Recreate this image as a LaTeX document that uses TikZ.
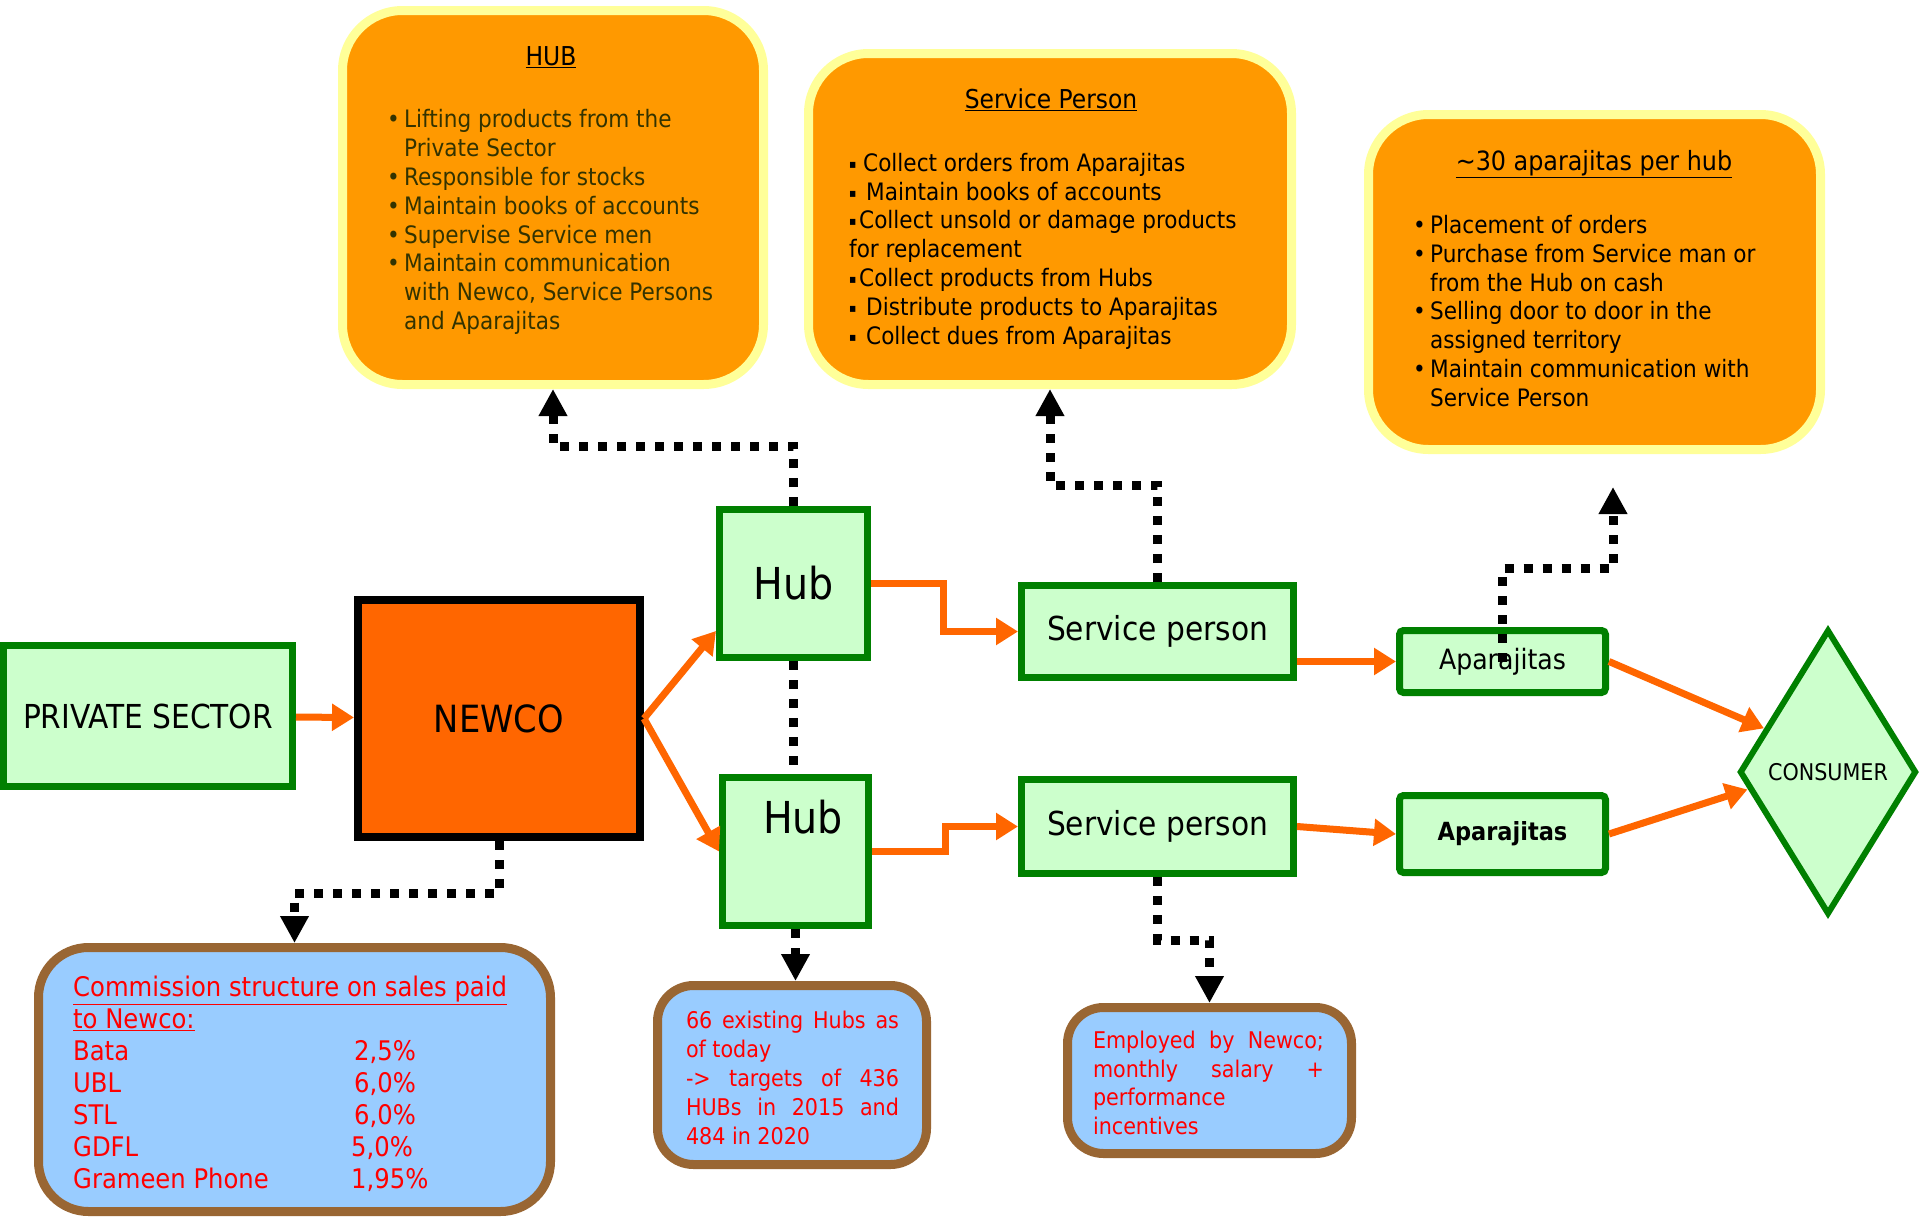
\documentclass[tikz,border=0pt]{standalone}
\usepackage{fontspec}
\setmainfont{DejaVu Sans Condensed}
\usetikzlibrary{arrows.meta,calc,positioning,shapes.geometric}

\definecolor{boxgreen}{HTML}{008000}
\definecolor{boxfill}{HTML}{CCFFCC}
\definecolor{newcoorange}{HTML}{FF6600}
\definecolor{calloutfill}{HTML}{FF9900}
\definecolor{calloutrim}{HTML}{FFFF99}
\definecolor{notefill}{HTML}{99CCFF}
\definecolor{noterim}{HTML}{996633}
\definecolor{olivetext}{HTML}{333300}

\newcommand{\blt}{\makebox[17pt][l]{\textbullet}}
\newcommand{\cont}{\hspace*{17pt}}
\newcommand{\sq}[1]{\makebox[6pt][l]{\raisebox{3pt}{\fontsize{12}{12}\selectfont ▪}}\hspace*{#1}}

\begin{document}
\begin{tikzpicture}[x=1pt,y=-1pt,
    unit/.style={draw=boxgreen,fill=boxfill,line width=7pt,inner sep=0pt},
    callout/.style={draw=calloutrim,fill=calloutfill,line width=9pt,rounded corners=60pt},
    note/.style={draw=noterim,fill=notefill,line width=9pt,rounded corners=36pt},
    flow/.style={draw=newcoorange,line width=7pt,-{Triangle[width=26pt,length=22pt]}},
    link/.style={draw=black,line width=9pt,dash pattern=on 9pt off 10pt,-{Triangle[width=27pt,length=27pt]}},
    txt/.style={inner sep=0pt,align=left,font=\fontsize{24}{28.8}\selectfont},
    redtxt/.style={inner sep=0pt,text=red,font=\fontsize{23}{28.8}\selectfont}]
      \path[use as bounding box,fill=white] (0,0) rectangle (1920,1221);

      % info callouts on top
      \node (hubinfo) [callout,minimum width=421pt,minimum height=374pt] at (553,197.5) {};
      \node (spinfo) [callout,minimum width=483pt,minimum height=331pt] at (1050,219) {};
      \node (apinfo) [callout,minimum width=452pt,minimum height=335pt] at (1594.5,282) {};
      \node (hubtitle) [font=\fontsize{26}{31}\selectfont] at (551,57) {\underline{HUB}};
      \node (sptitle) [font=\fontsize{26}{31}\selectfont] at (1051,100) {\underline{Service Person}};
      \node (aptitle) [font=\fontsize{26.5}{31}\selectfont] at (1594,164) {\underline{\textasciitilde30 aparajitas per hub}};
      \node (hubtext) [txt,anchor=west,text=olivetext] at (387,222) {\blt Lifting products from the\\
        \cont Private Sector\\ \blt Responsible for stocks\\ \blt Maintain books of accounts\\
        \blt Supervise Service men\\ \blt Maintain communication\\
        \cont with Newco, Service Persons\\ \cont and Aparajitas};
      \node (sptext) [txt,anchor=west] at (849,251) {\sq{8pt}Collect orders from Aparajitas\\
        \sq{11pt}Maintain books of accounts\\ \sq{4pt}Collect unsold or damage products\\ for replacement\\
        \sq{4pt}Collect products from Hubs\\ \sq{11pt}Distribute products to Aparajitas\\ \sq{11pt}Collect dues from Aparajitas};
      \node (aptext) [txt,anchor=west] at (1413,311) {\blt Placement of orders\\
        \blt Purchase from Service man or\\ \cont from the Hub on cash\\
        \blt Selling door to door in the\\ \cont assigned territory\\
        \blt Maintain communication with\\ \cont Service Person};

      % main flow
      \begin{scope}[every node/.style={unit}]
        \node (private) [minimum width=289pt,minimum height=141pt,font=\fontsize{33}{38}\selectfont] at (148,716) {PRIVATE SECTOR};
        \node (newco) [draw=black,fill=newcoorange,line width=8pt,minimum width=282pt,minimum height=237pt,font=\fontsize{37.5}{42}\selectfont] at (499,718.5) {NEWCO};
        \node (hub1) [minimum width=148pt,minimum height=148pt,font=\fontsize{44}{50}\selectfont] at (793.5,583.5) {Hub};
        \node (hub2) [minimum width=146pt,minimum height=148pt] at (795.5,851.5) {};
        \node (sp1) [minimum width=272pt,minimum height=92pt,font=\fontsize{33}{38}\selectfont] at (1157.5,631.5) {Service person};
        \node (sp2) [minimum width=272pt,minimum height=94pt,font=\fontsize{33}{38}\selectfont] at (1157.5,826.5) {Service person};
        \node (ap1) [rounded corners=4pt,minimum width=206pt,minimum height=62pt,font=\fontsize{28}{32}\selectfont] at (1502.5,661.5) {Aparajitas};
        \node (ap2) [rounded corners=4pt,minimum width=206pt,minimum height=77pt,font=\bfseries\fontsize{25}{30}\selectfont] at (1502.5,834) {Aparajitas};
        \node (consumer) [diamond,line width=6pt,minimum width=177pt,minimum height=285pt,font=\fontsize{23}{28}\selectfont] at (1828,772) {CONSUMER};
      \end{scope}
      \node (hub2label) [inner sep=0pt,font=\fontsize{44}{50}\selectfont] at (803,817) {Hub};

      % notes below
      \node (comm) [note,minimum width=512pt,minimum height=264pt,rounded corners=50pt] at (294.5,1079.5) {};
      \node (hubs66) [note,minimum width=269pt,minimum height=179pt] at (792,1075) {};
      \node (employed) [note,minimum width=284pt,minimum height=146pt] at (1209.5,1080.5) {};
      \node (commtext) [inner sep=0pt,anchor=west,align=left,text=red,font=\fontsize{27}{32}\selectfont] at (73,1084) {\underline{Commission structure on sales paid}\\
        \underline{to Newco:}\\ \makebox[281pt][l]{Bata}2,5\%\\ \makebox[281pt][l]{UBL}6,0\%\\
        \makebox[281pt][l]{STL}6,0\%\\ \makebox[278pt][l]{GDFL}5,0\%\\ \makebox[278pt][l]{Grameen Phone}1,95\%};
      \node (hubs66text) [redtxt,text width=213pt,align=justify] at (792.5,1078) {66 existing Hubs as\linebreak
        of today\par -> targets of 436\linebreak HUBs in 2015 and\linebreak 484 in 2020};
      \node (employedtext) [redtxt,text width=231pt,align=justify] at (1208.5,1083) {Employed by Newco;\linebreak
        monthly salary +\linebreak performance\newline incentives};

      % goods flow
      \begin{scope}[every edge/.style={flow}]
        \path (private) edge (newco);
        \path (newco.east) edge ($(hub1.south west)+(0,-30)$);
        \path (newco.east) edge (hub2.west);
        \path (sp1.east |- ap1.west) edge (ap1.west);
        \path (sp2.east) edge (ap2.west);
        \path (ap1.east) edge ($(consumer.west)!0.3!(consumer.north)$);
        \path (ap2.east) edge ($(consumer.west)!0.12!(consumer.south)$);
      \end{scope}
      \draw[flow] (hub1.east) -- ++(72,0) |- (sp1.west);
      \draw[flow] (hub2.east) -- ++(73,0) |- (sp2.west);

      % dotted links to the notes
      \coordinate (aptip) at (1613,487);
      \draw[link] (hub1.north) -- ++(0,-60) -| (hubinfo.south);
      \draw[link] (sp1.north) -- ++(0,-97) -| (spinfo.south);
      \draw[link] (ap1.center) -- ++(0,-93) -| (aptip);
      \draw[link,-] (hub1.south) -- (hub1.south |- hub2.north);
      \draw[link] (hub2.south) -- (hub2.south |- hubs66.north);
      \draw[link] (newco.south) -- ++(0,52) -| (comm.north);
      \draw[link] (sp2.south) -- ++(0,63) -| (employed.north);
    \end{tikzpicture}
\end{document}
